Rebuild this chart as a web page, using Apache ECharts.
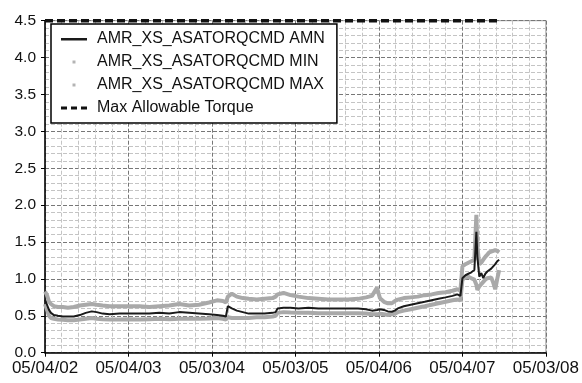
<!DOCTYPE html>
<html><head><meta charset="utf-8">
<script src="https://cdn.jsdelivr.net/npm/echarts@6/dist/echarts.min.js"></script>
<style>html,body{margin:0;padding:0;background:#fff}#c{width:582px;height:383px}</style>
</head><body><div id="c"></div>
<script>
// x positions in years from the first tick (05/04/02)
var years = [0,0.024,0.048,0.071,0.107,0.155,0.214,0.274,0.345,0.417,0.488,0.560,0.619,0.690,0.774,0.893,1.012,1.131,1.250,1.369,1.488,1.607,1.726,1.845,1.964,2.060,2.131,2.167,2.190,2.238,2.298,2.369,2.440,2.536,2.631,2.726,2.762,2.786,2.857,2.940,3.036,3.155,3.274,3.393,3.512,3.631,3.750,3.845,3.917,3.976,4.012,4.060,4.107,4.155,4.190,4.226,4.298,4.381,4.464,4.548,4.631,4.714,4.798,4.881,4.940,4.976,5.000,5.036,5.071,5.107,5.143,5.167,5.179,5.202,5.226,5.250,5.274,5.298,5.321,5.345,5.369,5.393,5.417,5.440];
var amnValues = [0.72,0.65,0.58,0.54,0.51,0.50,0.49,0.49,0.49,0.51,0.54,0.56,0.55,0.53,0.52,0.53,0.53,0.53,0.53,0.54,0.53,0.55,0.54,0.53,0.52,0.51,0.50,0.49,0.63,0.60,0.57,0.55,0.53,0.53,0.53,0.54,0.55,0.60,0.61,0.61,0.60,0.61,0.60,0.60,0.60,0.60,0.60,0.59,0.57,0.58,0.59,0.58,0.56,0.555,0.57,0.60,0.63,0.65,0.67,0.69,0.71,0.73,0.75,0.77,0.79,0.77,1.01,1.05,1.07,1.09,1.12,1.64,1.30,1.03,1.08,1.01,1.07,1.10,1.12,1.14,1.17,1.20,1.24,1.26];
var minValues = [0.66,0.58,0.50,0.47,0.46,0.45,0.445,0.44,0.44,0.45,0.46,0.47,0.46,0.455,0.45,0.45,0.455,0.45,0.455,0.46,0.455,0.46,0.46,0.46,0.465,0.47,0.46,0.45,0.48,0.47,0.47,0.47,0.47,0.48,0.48,0.49,0.50,0.54,0.55,0.545,0.54,0.54,0.535,0.535,0.535,0.535,0.535,0.53,0.52,0.52,0.53,0.52,0.51,0.52,0.53,0.55,0.57,0.59,0.61,0.63,0.65,0.67,0.69,0.71,0.72,0.71,0.99,1.02,1.03,1.01,0.99,0.92,0.85,0.90,0.93,0.96,0.99,1.01,1.03,1.02,0.95,0.86,1.00,1.12];
var maxValues = [0.83,0.78,0.69,0.66,0.63,0.62,0.62,0.61,0.62,0.64,0.65,0.66,0.65,0.64,0.63,0.63,0.63,0.63,0.62,0.63,0.64,0.66,0.64,0.65,0.68,0.71,0.70,0.68,0.76,0.80,0.76,0.74,0.73,0.72,0.73,0.74,0.76,0.79,0.81,0.78,0.76,0.74,0.73,0.72,0.72,0.72,0.73,0.75,0.77,0.88,0.74,0.69,0.67,0.67,0.70,0.72,0.74,0.75,0.76,0.78,0.79,0.81,0.82,0.84,0.86,0.84,1.17,1.20,1.22,1.24,1.26,1.87,1.44,1.20,1.22,1.26,1.30,1.33,1.36,1.37,1.38,1.39,1.38,1.36];
var limitX = [0, 5.44];
var limitValue = 4.5;
var xTickLabels = ['05/04/02','05/04/03','05/03/04','05/03/05','05/04/06','05/04/07','05/03/08'];
var seriesNames = ['AMR_XS_ASATORQCMD AMN','AMR_XS_ASATORQCMD MIN','AMR_XS_ASATORQCMD MAX','Max Allowable Torque'];

function pairs(xs, ys){ return xs.map(function(x,i){ return [x, ys[i]]; }); }

var chart = echarts.init(document.getElementById('c'), null, {renderer:'canvas'});
var FONT = 'Liberation Sans, Arial, sans-serif';
chart.setOption({
  animation:false,
  backgroundColor:'#fff',
  grid:{left:45,right:33,top:20.7,bottom:30.3,show:true,borderColor:'#999',borderWidth:1,backgroundColor:'transparent'},
  legend:{
    orient:'vertical', left:51, top:24,
    padding:[7,12,7,10], itemGap:7, itemWidth:31, itemHeight:14,
    backgroundColor:'#fff', borderColor:'#000', borderWidth:1.5, borderRadius:0,
    textStyle:{fontFamily:FONT,fontSize:16,color:'#111'},
    data:[
      {name:seriesNames[0], icon:'path://M0,0 M31,14 M0,6 L26,6 L26,8.5 L0,8.5 Z'},
      {name:seriesNames[1], icon:'path://M0,0 M31,14 M11.5,5.5 h3 v3 h-3 Z'},
      {name:seriesNames[2], icon:'path://M0,0 M31,14 M11.5,5.5 h3 v3 h-3 Z'},
      {name:seriesNames[3], icon:'path://M0,0 M31,14 M0,5.5 h6 v3 h-6 Z M10,5.5 h6 v3 h-6 Z M20,5.5 h6 v3 h-6 Z'}
    ]
  },
  xAxis:{
    type:'value', min:0, max:6, interval:1,
    axisLine:{show:true,onZero:false,lineStyle:{color:'#000',width:1.5}},
    axisTick:{show:true,length:4,lineStyle:{color:'#000'}},
    minorTick:{show:false,splitNumber:5},
    axisLabel:{fontFamily:FONT,fontSize:17,color:'#111',margin:7,
      formatter:function(v){ return xTickLabels[Math.round(v)] || ''; }},
    splitLine:{show:true,lineStyle:{color:'#777',type:[4,2],width:1}},
    minorSplitLine:{show:true,lineStyle:{color:'#c4c4c4',type:[4,2],width:1}}
  },
  yAxis:{
    type:'value', min:0, max:4.5, interval:0.5,
    axisLine:{show:true,onZero:false,lineStyle:{color:'#000',width:1.5}},
    axisTick:{show:true,length:4,lineStyle:{color:'#000'}},
    minorTick:{show:false,splitNumber:5},
    axisLabel:{fontFamily:FONT,fontSize:15.5,color:'#111',margin:9,
      formatter:function(v){ return v.toFixed(1); }},
    splitLine:{show:true,lineStyle:{color:'#777',type:[4,2],width:1}},
    minorSplitLine:{show:true,lineStyle:{color:'#c4c4c4',type:[4,2],width:1}}
  },
  series:[
    {name:seriesNames[0], type:'line', data:pairs(years, amnValues), showSymbol:false, symbol:'none', z:5,
      lineStyle:{color:'#1a1a1a',width:2}, itemStyle:{color:'#1a1a1a'}},
    {name:seriesNames[1], type:'line', data:pairs(years, minValues), showSymbol:false, symbol:'none', z:3,
      lineStyle:{color:'#a9a9a9',width:4}, itemStyle:{color:'#b4b4b4'}},
    {name:seriesNames[2], type:'line', data:pairs(years, maxValues), showSymbol:false, symbol:'none', z:3,
      lineStyle:{color:'#a9a9a9',width:4}, itemStyle:{color:'#b4b4b4'}},
    {name:seriesNames[3], type:'line', data:pairs(limitX, [limitValue, limitValue]), showSymbol:false, symbol:'none', z:4, clip:false,
      lineStyle:{color:'#111',width:3.5,type:[8,4]}, itemStyle:{color:'#111'}}
  ]
});
</script></body></html>
